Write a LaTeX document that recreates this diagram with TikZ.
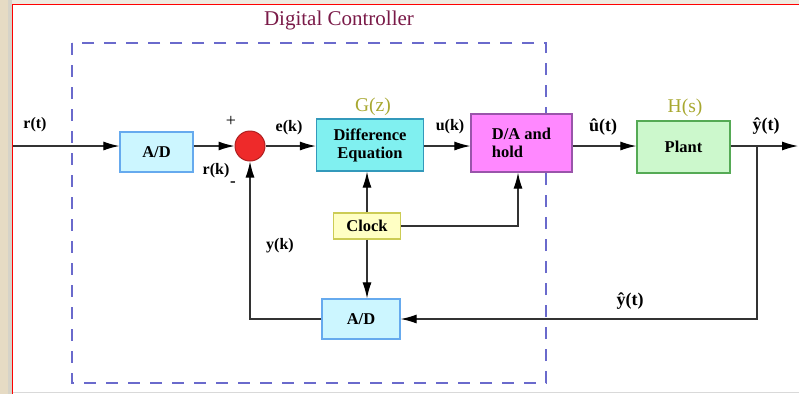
\documentclass[tikz,border=0pt]{standalone}
\usepackage{fontspec}
\setmainfont{Liberation Serif}
\usetikzlibrary{arrows.meta,calc}
\definecolor{titlecol}{HTML}{7A1A48}
\definecolor{olivecol}{HTML}{A8A830}
\definecolor{adfill}{HTML}{CCF6FF}
\definecolor{addraw}{HTML}{66AAEE}
\definecolor{difffill}{HTML}{80F0F0}
\definecolor{diffdraw}{HTML}{3399BB}
\definecolor{dafill}{HTML}{FF88FF}
\definecolor{dadraw}{HTML}{9955AA}
\definecolor{plantfill}{HTML}{CCF8CC}
\definecolor{plantdraw}{HTML}{55AA55}
\definecolor{clockfill}{HTML}{FFFFC4}
\definecolor{clockdraw}{HTML}{CCCC55}
\definecolor{sumfill}{HTML}{EE2A2A}
\definecolor{sumdraw}{HTML}{B02020}
\definecolor{dashcol}{HTML}{6A6ACC}
\definecolor{linecol}{HTML}{333333}
\definecolor{beige}{HTML}{E6DBC4}
\definecolor{graystrip}{HTML}{D6D3C8}
\definecolor{topstrip}{HTML}{EEEAE0}
\tikzset{
  blockbox/.style={draw, line width=1.3pt, inner sep=0pt, font=\fontsize{16.5}{18}\selectfont\bfseries, align=center},
  lbl/.style={inner sep=0pt, font=\fontsize{16}{18}\selectfont\bfseries},
  tf/.style={inner sep=0pt, text=olivecol, font=\fontsize{19.5}{21}\selectfont},
  conn/.style={draw=linecol, line width=1.2pt},
  arr/.style={conn, -{Latex[length=16pt,width=9pt,color=black]}}
}
\begin{document}
\begin{tikzpicture}[x=1pt,y=-1pt]
\useasboundingbox (0,0) rectangle (799,394);
% background
\fill[white] (0,0) rectangle (799,394);
\fill[topstrip] (0,0) rectangle (799,4);
\fill[beige] (0,0) rectangle (8,394);
\fill[graystrip] (8,0) rectangle (12,394);
\draw[red, line width=1pt] (12.5,394) -- (12.5,4.5) -- (799,4.5);
\draw[gray!30, line width=0.8pt] (12.5,392.5) -- (799,392.5);
% dashed controller box
\draw[dashcol, line width=1.8pt, dash pattern=on 12pt off 10pt] (72,43) rectangle (546,383);
\node[inner sep=0pt, text=titlecol, font=\fontsize{21}{23}\selectfont] (title) at (339,20) {Digital Controller};
% blocks
\node[blockbox, fill=adfill, draw=addraw, minimum width=73pt, minimum height=40pt] (ad1) at (156.5,152) {A/D};
\node[circle, draw=sumdraw, fill=sumfill, line width=1pt, minimum size=30pt, inner sep=0pt] (sum) at (250,146) {};
\node[blockbox, fill=difffill, draw=diffdraw, minimum width=107pt, minimum height=52pt] (diff) at (370,145) {Difference\\Equation};
\node[blockbox, fill=dafill, draw=dadraw, minimum width=101pt, minimum height=58pt, align=left] (da) at (521.5,143) {D/A and\\hold};
\node[blockbox, fill=plantfill, draw=plantdraw, minimum width=93pt, minimum height=52pt] (plant) at (683.5,147) {Plant};
\node[blockbox, fill=clockfill, draw=clockdraw, minimum width=67pt, minimum height=26pt] (clock) at (367,226) {Clock};
\node[blockbox, fill=adfill, draw=addraw, minimum width=78pt, minimum height=40pt] (ad2) at (361,319) {A/D};
\coordinate (in) at (12.5,146);
\coordinate (out) at (798,146);
\coordinate (br) at (757,146);
% connectors
\draw[arr] (in) -- (ad1.west |- sum);
\draw[arr] (ad1.east |- sum) -- (sum.west);
\draw[arr] (sum.east) -- (diff.west |- sum);
\draw[arr] (diff.east |- sum) -- (da.west |- sum);
\draw[arr] (da.east |- sum) -- (plant.west |- sum);
\draw[arr] (plant.east |- sum) -- (out);
\draw[arr] (br) -- (br |- ad2.east) -- (ad2.east);
\draw[arr] (ad2.west) -| (sum.south);
\draw[arr] (clock.north) -- (clock.north |- diff.south);
\draw[arr] (clock.east) -| ([xshift=-3.5pt]da.south);
\draw[arr] (clock.south) -- (clock.south |- ad2.north);
% labels
\node[lbl] (lrt) at (35,125) {r(t)};
\node[inner sep=0pt, font=\fontsize{18}{20}\selectfont] (lplus) at (231,121) {+};
\node[lbl] (lrk) at (216,171) {r(k)};
\node[inner sep=0pt, font=\fontsize{17}{19}\selectfont\bfseries] (lminus) at (233,184) {-};
\node[lbl] (lek) at (289,128) {e(k)};
\node[tf] (lgz) at (373,107) {G(z)};
\node[lbl] (luk) at (450,127) {u(k)};
\node[lbl, font=\fontsize{18}{20}\selectfont\bfseries] (lut) at (603,127) {û(t)};
\node[tf] (lhs) at (685,108) {H(s)};
\node[lbl, font=\fontsize{18}{20}\selectfont\bfseries] (lyt) at (766,126) {ŷ(t)};
\node[lbl] (lyk) at (280,246) {y(k)};
\node[lbl, font=\fontsize{18}{20}\selectfont\bfseries] (lyt2) at (630,301) {ŷ(t)};
\end{tikzpicture}
\end{document}
